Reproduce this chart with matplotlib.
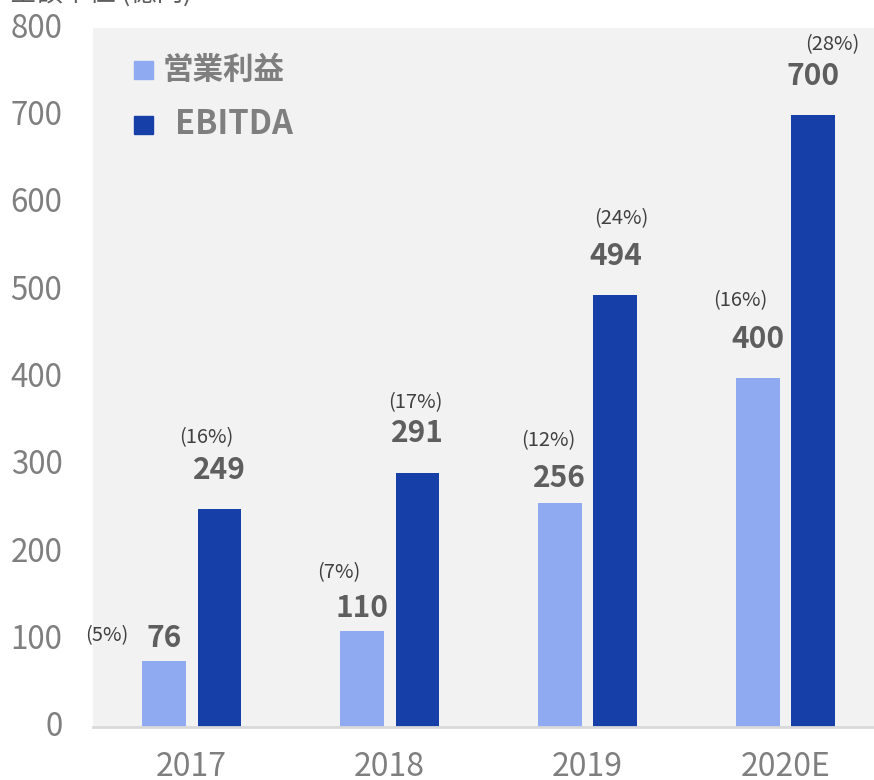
import matplotlib
matplotlib.use("Agg")
import matplotlib.pyplot as plt
import matplotlib.transforms as mtransforms
import numpy as np

plt.rcParams['font.family'] = ['Noto Sans CJK JP', 'DejaVu Sans']

categories = ["2017", "2018", "2019", "2020E"]
op_profit = [76, 110, 256, 400]
ebitda = [249, 291, 494, 700]
op_margin = ["(5%)", "(7%)", "(12%)", "(16%)"]
ebitda_margin = ["(16%)", "(17%)", "(24%)", "(28%)"]
series_names = ["営業利益", "EBITDA"]
yticks = [0, 100, 200, 300, 400, 500, 600, 700, 800]
unit_label = "金額単位 (億円)"

# label placement offsets in pixels (dx, dy from bar top)
op_val_dy = [23, 23, 25, 39]
op_pct_off = [(-57, 25), (-23, 58), (-11, 63), (-17, 77)]
eb_val_dy = [39, 40, 39, 39]
eb_pct_off = [(-13, 72), (-2, 70), (6, 77), (19, 71)]

light = "#8FAAF0"
dark = "#1640A7"
gray_txt = "#7F7F7F"
val_txt = "#5E5E5E"

W, H = 874, 780
fig = plt.figure(figsize=(W / 100, H / 100), dpi=100)
ax = fig.add_axes([93 / W, 1 - 727 / H, 1 - 93 / W, (727 - 28) / H])
ax.set_facecolor("#F2F2F2")

x = np.arange(len(categories))
bw = 0.222
off = 0.141
ax.bar(x - off, op_profit, bw, color=light, zorder=2)
ax.bar(x + off, ebitda, bw, color=dark, zorder=2)

ax.set_xlim(-0.498, 3.447)
ax.set_ylim(0, 800)
ax.set_yticks(yticks)
ax.set_yticklabels([str(v) for v in yticks])
ax.set_xticks(x)
ax.set_xticklabels(categories)
ax.tick_params(axis='y', length=0, pad=22, labelsize=22.5, labelcolor=gray_txt)
ax.tick_params(axis='x', length=0, pad=17, labelsize=23, labelcolor=gray_txt)
shift = mtransforms.ScaledTranslation(0, 3 / 100, fig.dpi_scale_trans)
for lab in ax.get_yticklabels():
    lab.set_transform(lab.get_transform() + shift)
for s in ["top", "right", "left"]:
    ax.spines[s].set_visible(False)
ax.spines["bottom"].set_color("#D9D9D9")
ax.spines["bottom"].set_linewidth(2)
ax.spines["bottom"].set_zorder(3)

px = 72 / 100  # points per pixel
for i in range(len(categories)):
    ax.annotate(str(op_profit[i]), (x[i] - off, op_profit[i]),
                xytext=(0, op_val_dy[i] * px), textcoords='offset points',
                ha='center', va='center', fontsize=21.5, fontweight='bold',
                color=val_txt)
    ax.annotate(op_margin[i], (x[i] - off, op_profit[i]),
                xytext=(op_pct_off[i][0] * px, op_pct_off[i][1] * px),
                textcoords='offset points', ha='center', va='center',
                fontsize=14.5, color="#404040")
    ax.annotate(str(ebitda[i]), (x[i] + off, ebitda[i]),
                xytext=(0, eb_val_dy[i] * px), textcoords='offset points',
                ha='center', va='center', fontsize=21.5, fontweight='bold',
                color=val_txt)
    ax.annotate(ebitda_margin[i], (x[i] + off, ebitda[i]),
                xytext=(eb_pct_off[i][0] * px, eb_pct_off[i][1] * px),
                textcoords='offset points', ha='center', va='center',
                fontsize=14.5, color="#404040")

# legend (manual)
for (yy, col, name, tx, fs) in [(70, light, series_names[0], 163, 22),
                                (125, dark, series_names[1], 175, 23.5)]:
    fig.patches.append(plt.Rectangle((134 / W, 1 - (yy + 9) / H), 19 / W, 18 / H,
                                     transform=fig.transFigure, color=col, zorder=5))
    fig.text(tx / W, 1 - yy / H, name, ha='left', va='center', fontsize=fs,
             fontweight='bold', color=gray_txt)

fig.text(10 / W, 1 + 7 / H, unit_label, ha='left', va='center', fontsize=19,
         color=val_txt)

fig.savefig("out.png", dpi=100)
